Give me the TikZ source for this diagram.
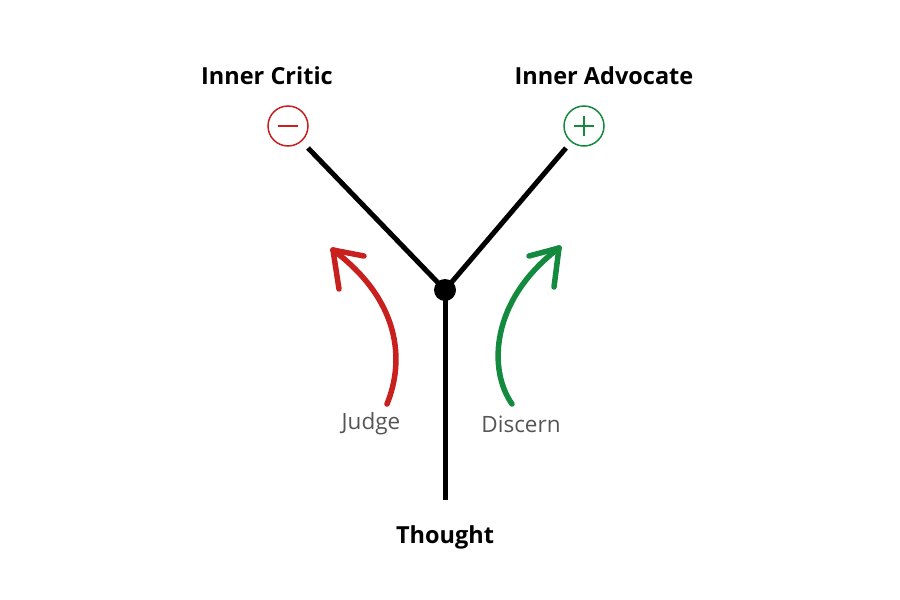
\documentclass[tikz,border=0pt]{standalone}
\usepackage{fontspec}
\setmainfont{Open Sans}
\usetikzlibrary{calc}
\definecolor{critred}{HTML}{C8201F}
\definecolor{advgreen}{HTML}{138A3E}
\definecolor{softgray}{HTML}{555555}
\begin{document}
\begin{tikzpicture}[x=1pt,y=-1pt,
  branch/.style={line width=5pt,black},
  title/.style={font=\fontsize{23.5}{26}\selectfont\bfseries,inner sep=0pt},
  verb/.style={font=\fontsize{22.5}{26}\selectfont,text=softgray,inner sep=0pt},
  sign/.style={circle,draw,line width=1.5pt,minimum size=40pt,inner sep=0pt},
  glyph/.style={line width=2pt},
  curvy/.style={line width=5.5pt,line cap=round,line join=round}]
\useasboundingbox (0,0) rectangle (900,600);
% junction and ends
\node[circle,fill=black,minimum size=22pt,inner sep=0pt] (hub) at (445,290) {};
\coordinate (bottom) at (445,500);
\node[sign,draw=critred] (minus) at (288,126) {};
\node[sign,draw=advgreen] (plus) at (584,126) {};
\draw[critred,glyph] ($(minus)+(-10,0)$) -- ($(minus)+(10,0)$);
\draw[advgreen,glyph] ($(plus)+(-10,0)$) -- ($(plus)+(10,0)$);
\draw[advgreen,glyph] ($(plus)+(0,-10)$) -- ($(plus)+(0,10)$);
% branches
\coordinate (lend) at (308,148);
\coordinate (rend) at (566,148);
\draw[branch] (hub.center) -- (bottom);
\draw[branch] (hub.center) -- (lend);
\draw[branch] (hub.center) -- (rend);
% labels
\node[title] (critic) at (267,76) {Inner Critic};
\node[title] (advocate) at (604,76) {Inner Advocate};
\node[title] (thought) at (445,537) {Thought};
\node[verb] (judge) at (371,424) {Judge};
\node[verb] (discern) at (521,424) {Discern};
% red arrow
\coordinate (rs) at (387,404);
\coordinate (rt) at (333,250);
\draw[curvy,critred] (rs) .. controls (405,360) and (400,300) .. (rt);
\draw[curvy,critred] (rt) -- (364,256);
\draw[curvy,critred] (rt) -- (339,289);
% green arrow
\coordinate (gs) at (512,404);
\coordinate (gt) at (559,248);
\draw[curvy,advgreen] (gs) .. controls (488,370) and (490,300) .. (gt);
\draw[curvy,advgreen] (gt) -- (529,256);
\draw[curvy,advgreen] (gt) -- (554,287);
\end{tikzpicture}
\end{document}
